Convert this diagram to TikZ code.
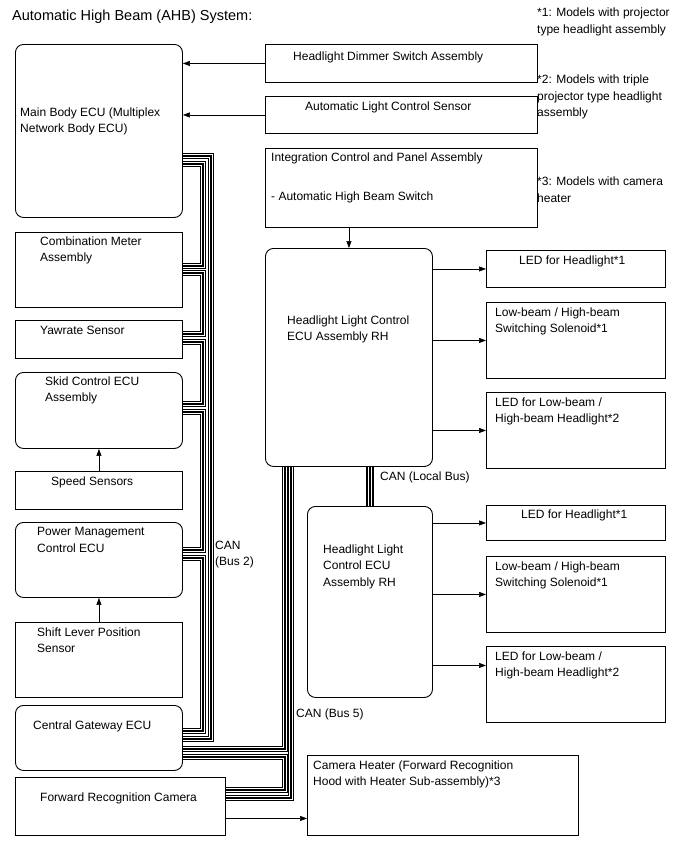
\documentclass[tikz,border=0pt]{standalone}
\usepackage{fontspec}
\setmainfont{Liberation Sans}
\usetikzlibrary{arrows.meta}

\begin{document}
\begin{tikzpicture}[x=1pt, y=-1pt, every node/.style={inner sep=0pt},
  box/.style={draw, line width=0.9pt, anchor=north west},
  rbox/.style={box, rounded corners=8pt},
  txt/.style={anchor=north west, align=left, font=\fontsize{12}{16.5}\selectfont},
  arrow/.style={-{Triangle[length=7pt, width=5pt]}, line width=0.6pt},
  canbus/.style={line width=6.4pt, postaction={draw=white, line width=3.4pt},
    postaction={draw=black, line width=1.4pt}},
  localbus/.style={line width=8.4pt, postaction={draw=white, line width=4.6pt},
    postaction={draw=black, line width=1.8pt}}]
\useasboundingbox (0,0) rectangle (688,852);

% title and notes
\node[anchor=north west, font=\fontsize{14.5}{17}\selectfont] (title) at (12,10)
  {Automatic High Beam (AHB) System:};
\node[txt] (note1) at (537,8) {*1: Models with projector\\type headlight assembly};
\node[txt] (note2) at (537,75) {*2: Models with triple\\projector type headlight\\assembly};
\node[txt] (note3) at (537,177) {*3: Models with camera\\heater};

% left column
\node[rbox, minimum width=167, minimum height=173] (mainbody) at (15,44) {};
\node[txt] (mainbodytxt) at (20,107.5) {Main Body ECU (Multiplex\\Network Body ECU)};
\node[box, minimum width=167, minimum height=75] (combi) at (15,232) {};
\node[txt] (combitxt) at (40,236.5) {Combination Meter\\Assembly};
\node[box, minimum width=167, minimum height=38] (yaw) at (15,320) {};
\node[txt] (yawtxt) at (40,325.5) {Yawrate Sensor};
\node[rbox, minimum width=167, minimum height=76] (skid) at (15,372) {};
\node[txt] (skidtxt) at (45,376.5) {Skid Control ECU\\Assembly};
\node[box, minimum width=167, minimum height=38] (speed) at (15,471) {};
\node[txt] (speedtxt) at (51,476.5) {Speed Sensors};
\node[rbox, minimum width=167, minimum height=75] (power) at (15,522) {};
\node[txt] (powertxt) at (37,527.5) {Power Management\\Control ECU};
\node[box, minimum width=167, minimum height=75] (shift) at (15,622) {};
\node[txt] (shifttxt) at (37,627.5) {Shift Lever Position\\Sensor};
\node[rbox, minimum width=167, minimum height=65] (cgw) at (15,705) {};
\node[txt] (cgwtxt) at (33,720.5) {Central Gateway ECU};
\node[box, minimum width=210, minimum height=58] (camera) at (15,777) {};
\node[txt] (cameratxt) at (40,792.5) {Forward Recognition Camera};

% middle column
\node[box, minimum width=272, minimum height=38] (dimmer) at (265,44) {};
\node[txt] (dimmertxt) at (293,51.5) {Headlight Dimmer Switch Assembly};
\node[box, minimum width=272, minimum height=37] (alc) at (265,96) {};
\node[txt] (alctxt) at (305,101.5) {Automatic Light Control Sensor};
\node[box, minimum width=272, minimum height=79] (integ) at (265,148) {};
\node[txt] (integtxt) at (271,152.5)
  {Integration Control and Panel Assembly\\[22.5pt]- Automatic High Beam Switch};
\node[rbox, minimum width=167, minimum height=218] (hlecuA) at (265,248) {};
\node[txt] (hlecuAtxt) at (287,315.5) {Headlight Light Control\\ECU Assembly RH};
\node[rbox, minimum width=125, minimum height=191] (hlecuB) at (307,506) {};
\node[txt] (hlecuBtxt) at (323,544.5) {Headlight Light\\Control ECU\\Assembly RH};
\node[box, minimum width=271, minimum height=80] (heater) at (307,755) {};
\node[txt] (heatertxt) at (313,760.5)
  {Camera Heater (Forward Recognition\\Hood with Heater Sub-assembly)*3};

% right column
\node[box, minimum width=179, minimum height=37] (ledA) at (486,250) {};
\node[txt] (ledAtxt) at (519,255.5) {LED for Headlight*1};
\node[box, minimum width=179, minimum height=76] (solA) at (486,302) {};
\node[txt] (solAtxt) at (495,307.5) {Low-beam / High-beam\\Switching Solenoid*1};
\node[box, minimum width=179, minimum height=76] (lhA) at (486,392) {};
\node[txt] (lhAtxt) at (495,397.5) {LED for Low-beam /\\High-beam Headlight*2};
\node[box, minimum width=179, minimum height=35] (ledB) at (486,505) {};
\node[txt] (ledBtxt) at (521,509.5) {LED for Headlight*1};
\node[box, minimum width=179, minimum height=76] (solB) at (486,556) {};
\node[txt] (solBtxt) at (495,561.5) {Low-beam / High-beam\\Switching Solenoid*1};
\node[box, minimum width=179, minimum height=76] (lhB) at (486,646) {};
\node[txt] (lhBtxt) at (495,651.5) {LED for Low-beam /\\High-beam Headlight*2};

% bus labels
\node[txt] (bus2) at (215,540.5) {CAN\\(Bus 2)};
\node[txt] (bus5) at (296,708.5) {CAN (Bus 5)};
\node[txt] (localcan) at (380,471.5) {CAN (Local Bus)};

% signal arrows
\draw[arrow] (dimmer.west) -- (dimmer.west -| mainbody.east);
\draw[arrow] (alc.west) -- (alc.west -| mainbody.east);
\draw[arrow] (hlecuA.north |- integ.south) -- (hlecuA.north);
\draw[arrow] (speed.north) -- (skid.south);
\draw[arrow] (shift.north) -- (power.south);
\draw[arrow] ([yshift=-12pt]camera.east) -- ([yshift=-12pt]camera.east -| heater.west);
\draw[arrow] (ledA.west -| hlecuA.east) -- (ledA.west);
\draw[arrow] (solA.west -| hlecuA.east) -- (solA.west);
\draw[arrow] (lhA.west -| hlecuA.east) -- (lhA.west);
\draw[arrow] (ledB.west -| hlecuB.east) -- (ledB.west);
\draw[arrow] (solB.west -| hlecuB.east) -- (solB.west);
\draw[arrow] ([yshift=19pt]lhB.west -| hlecuB.east) -- ([yshift=19pt]lhB.west);

% CAN bus 2
\draw[canbus] (mainbody.east |- 0,156) -| (211,739) -- (cgw.east |- 0,739);
\draw[canbus] (mainbody.east |- 0,164) -| (203,266) -- (combi.east |- 0,266);
\draw[canbus] (combi.east |- 0,273) -| (203,334) -- (yaw.east |- 0,334);
\draw[canbus] (yaw.east |- 0,342) -| (203,404) -- (skid.east |- 0,404);
\draw[canbus] (skid.east |- 0,412) -| (203,550) -- (power.east |- 0,550);
\draw[canbus] (power.east |- 0,558) -| (203,731) -- (cgw.east |- 0,731);

% CAN bus 5
\draw[canbus] (cgw.east |- 0,749) -| (285,0 |- hlecuA.south);
\draw[canbus] (cgw.east |- 0,757) -| (285,790) -- (camera.east |- 0,790);
\draw[canbus] (camera.east |- 0,798) -| (291,0 |- hlecuA.south);

% local bus
\draw[localbus] (370,0 |- hlecuA.south) -- (370,0 |- hlecuB.north);
\end{tikzpicture}
\end{document}
